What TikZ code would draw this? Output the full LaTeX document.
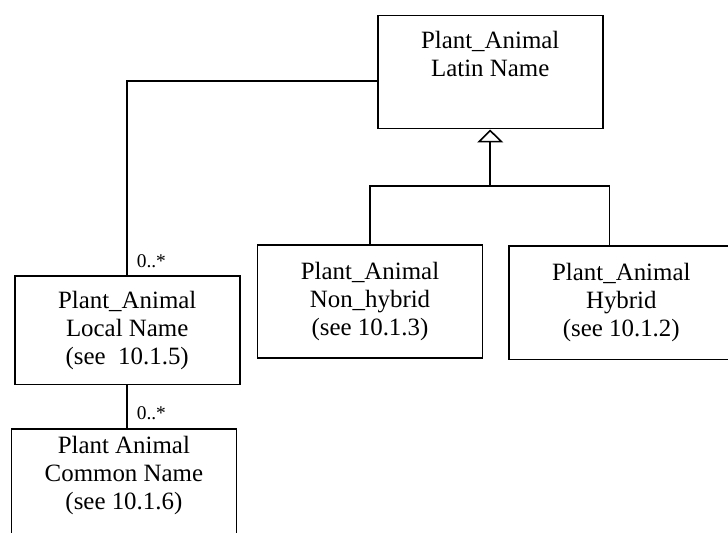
\documentclass[tikz,border=0pt]{standalone}
\usepackage{fontspec}
\setmainfont{Liberation Serif}
\usetikzlibrary{arrows.meta}
\newcommand{\boxwd}{112.5pt}
\tikzset{classbox/.style={draw, line width=.8pt, minimum width=\boxwd, inner sep=0pt, align=center, font=\fontsize{12.45}{14}\selectfont},
  mult/.style={anchor=base west, inner sep=0pt, font=\fontsize{9.7}{11}\selectfont}}

\begin{document}
\begin{tikzpicture}[x=.5pt,y=-.5pt,line width=.8pt]
\useasboundingbox (0,0) rectangle (728,533);
\clip (0,0) rectangle (728,533);

\node (latin) at (490.2,72.2) [classbox, minimum height=56.5pt] {Plant\_Animal\\Latin Name\\\strut};
\node (nonhyb) at (370,301.7) [classbox, minimum height=56.6pt] {Plant\_Animal\\Non\_hybrid\\(see 10.1.3)};
\node (hyb) at (621.3,302.8) [classbox, minimum height=56.7pt] {Plant\_Animal\\Hybrid\\(see 10.1.2)};
\node (local) at (127.2,330.2) [classbox, minimum height=54.2pt] {Plant\_Animal\\Local Name\\(see~~10.1.5)};
\node (common) at (123.9,491.3) [classbox, minimum height=62pt] {Plant Animal\\Common Name\\(see 10.1.6)\\\strut};

%\coordinate for the generalisation bar
\coordinate (bar) at (490.2,186);

\draw
(local.north) |- ([yshift=-4.5pt]latin.west)
(local.south) -- (local.south |- common.north)
(nonhyb.north) |- (bar) -| ([xshift=-6pt]hyb.north);
\draw[-{Triangle[open,length=6.5pt,width=13pt]}] (bar) -- (latin.south);

\node (mlocal) at (136,268) [mult] {0..*};
\node (mcommon) at (136,420) [mult] {0..*};

\end{tikzpicture}
\end{document}
